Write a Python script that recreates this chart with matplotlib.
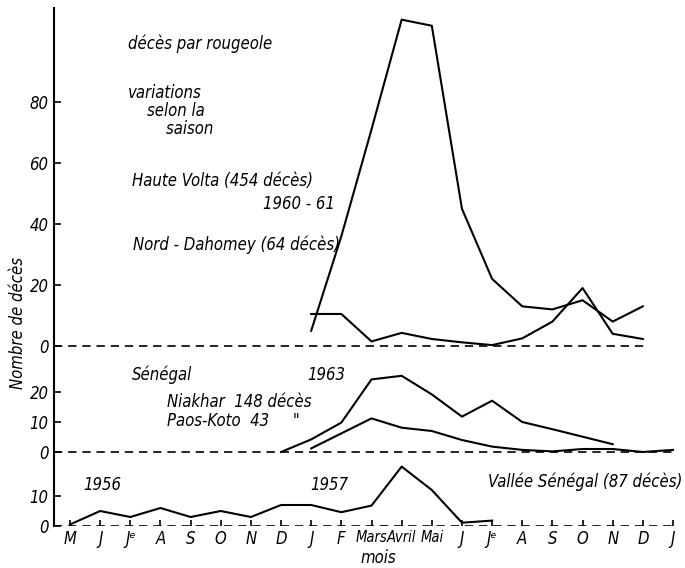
import matplotlib
matplotlib.use('Agg')
import matplotlib.pyplot as plt

plt.rcParams['font.family'] = ['DejaVu Sans']
plt.rcParams['font.style'] = 'italic'
plt.rcParams['font.stretch'] = 'condensed'

# mois (axe commun)
mois = ['M', 'J', 'Jᵉ', 'A', 'S', 'O', 'N', 'D', 'J', 'F', 'Mars', 'Avril',
        'Mai', 'J', 'Jᵉ', 'A', 'S', 'O', 'N', 'D', 'J']

# Haute Volta 1960-61 (454 deces), de J a D
hv_x = list(range(8, 20))
haute_volta = [5, 36, 71, 107, 105, 45, 22, 13, 12, 15, 8, 13]

# Nord-Dahomey (64 deces)
nd_x = list(range(8, 20))
nord_dahomey = [10.5, 10.5, 1.5, 4.3, 2.3, 1.2, 0.3, 2.5, 8, 19, 4, 2.3]

# Senegal 1963 : Niakhar (148) et Paos-Koto (43)
nk_x = list(range(7, 19))
niakhar = [0, 4.2, 9.8, 24.2, 25.4, 19.2, 11.8, 17.1, 10, 7.6, 5.1, 2.6]
pk_x = list(range(8, 21))
paos_koto = [1.2, 6.2, 11.2, 8.1, 7, 4, 1.8, 0.7, 0.2, 1, 1, 0, 0.7]

# Vallee Senegal 1956-57 (87 deces)
vs_x = list(range(0, 15))
vallee = [0.5, 5, 3, 6, 3, 5, 3, 7, 7, 4.6, 6.8, 19.8, 12, 1.1, 1.8]

W, H = 685, 568
fig = plt.figure(figsize=(W / 100, H / 100), dpi=100)

def px_axes(top, bottom, left=54, right=685):
    return fig.add_axes([left / W, 1 - bottom / H, (right - left) / W, (bottom - top) / H])

xlim = ((54 - 70) / 30.15, (685 - 70) / 30.15)
ax1 = px_axes(8, 360)
ax2 = px_axes(360, 462)
ax3 = px_axes(462, 526)
ax1.set_ylim(-(360 - 346) / 3.05, (346 - 8) / 3.05)
ax2.set_ylim(-(462 - 452) / 3.0, (452 - 360) / 3.0)
ax3.set_ylim(0, (526 - 462) / 3.0)

lw = 1.5
dash = dict(color='black', lw=1.2, dashes=(5, 3.5))

for ax in (ax1, ax2, ax3):
    ax.set_xlim(*xlim)
    ax.patch.set_alpha(0)
    for s in ('top', 'right', 'bottom'):
        ax.spines[s].set_visible(False)
    ax.spines['left'].set_linewidth(1.5)
    ax.tick_params(axis='y', direction='in', length=5, width=1.2, labelsize=12, pad=4)

# panneau du haut
ax1.plot([xlim[0], 19.1], [0, 0], **dash)
ax1.plot(hv_x, haute_volta, color='black', lw=lw, clip_on=False)
ax1.plot(nd_x, nord_dahomey, color='black', lw=lw, clip_on=False)
ax1.set_yticks([0, 20, 40, 60, 80])
ax1.set_xticks([])

# panneau du milieu
ax2.plot([xlim[0], 20.1], [0, 0], **dash)
ax2.plot(nk_x, niakhar, color='black', lw=lw, clip_on=False)
ax2.plot(pk_x, paos_koto, color='black', lw=lw, clip_on=False)
ax2.set_yticks([0, 10, 20])
ax2.set_xticks([])

# panneau du bas
ax3.plot([xlim[0], 20.1], [0, 0], **dash)
ax3.plot(vs_x, vallee, color='black', lw=lw, clip_on=False)
ax3.set_yticks([0, 10])
ax3.set_xticks(range(len(mois)))
ax3.set_xticklabels(mois)
ax3.tick_params(axis='x', direction='in', length=4, width=1.2, labelsize=12, pad=3)
for lab in ax3.get_xticklabels():
    if lab.get_text() in ('Mars', 'Avril', 'Mai'):
        lab.set_fontsize(10.5)

def txt(x, y, s, **kw):
    fig.text(x / W, 1 - y / H, s, fontsize=12, va='center', **kw)

txt(128, 44, 'décès par rougeole')
txt(128, 111, 'variations\n    selon la\n        saison', linespacing=1.0)
txt(132, 181, 'Haute Volta (454 décès)')
txt(263, 204, '1960 - 61')
txt(133, 245, 'Nord - Dahomey (64 décès)')
txt(132, 375, 'Sénégal')
txt(307, 375, '1963')
txt(167, 402, 'Niakhar  148 décès')
txt(167, 421, 'Paos-Koto  43     "')
txt(83, 485, '1956')
txt(310, 485, '1957')
txt(488, 482, 'Vallée Sénégal (87 décès)')
txt(378, 558, 'mois', ha='center')
fig.text(18 / W, 1 - 323 / H, 'Nombre de décès', rotation=90, fontsize=12,
         ha='center', va='center')

fig.savefig('out.png', dpi=100)
